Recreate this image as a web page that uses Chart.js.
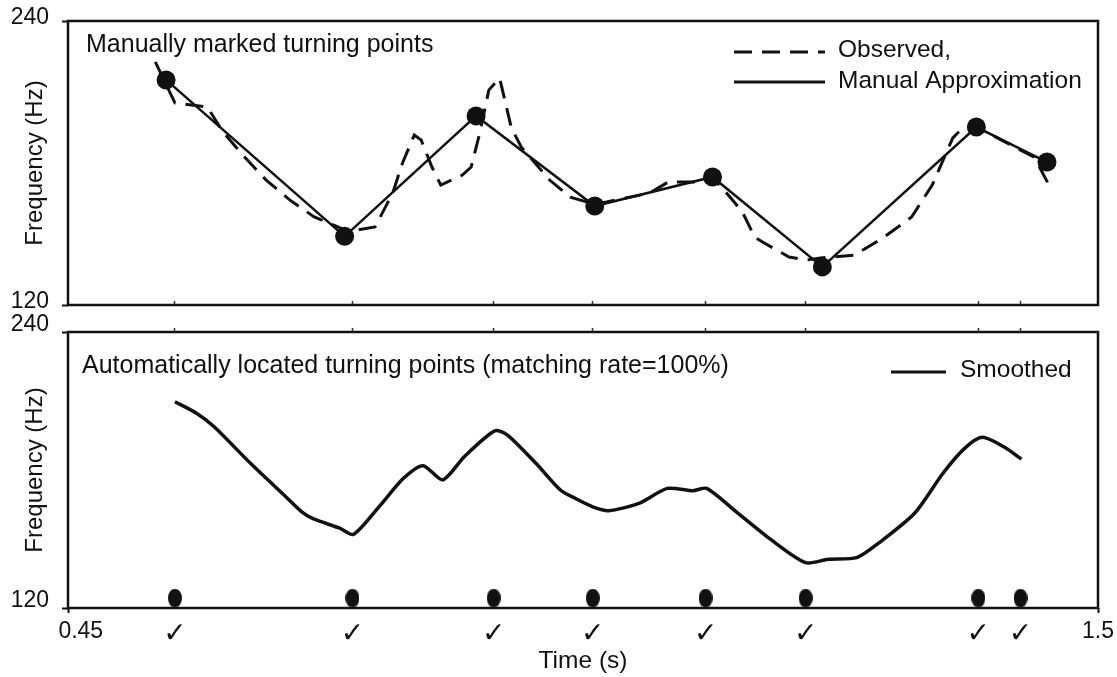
<!DOCTYPE html>
<html>
<head>
<meta charset="utf-8">
<script src="https://cdn.jsdelivr.net/npm/chart.js@4.4.1/dist/chart.umd.min.js"></script>
<style>
  html, body { margin: 0; padding: 0; background: #fff; width: 1117px; height: 677px; overflow: hidden; }
  canvas { position: absolute; left: 0; }
  #upper { top: 0; }
  #lower { top: 300px; }
</style>
</head>
<body>
<canvas id="upper" width="1117" height="318"></canvas>
<canvas id="lower" width="1117" height="377"></canvas>
<script>
// ---- F0 contour data (time in s, frequency in Hz) ----
const observedTime = [0.539, 0.559, 0.592, 0.608, 0.630, 0.652, 0.676, 0.701, 0.728, 0.740, 0.763, 0.781,
  0.791, 0.803, 0.810, 0.821, 0.830, 0.852, 0.861, 0.870, 0.879, 0.890, 0.902, 0.912, 0.941, 0.962, 0.986,
  0.999, 1.043, 1.062, 1.094, 1.107, 1.116, 1.130, 1.138, 1.150, 1.158, 1.185, 1.203, 1.217, 1.229, 1.252,
  1.282, 1.310, 1.331, 1.352, 1.360, 1.373, 1.386, 1.407, 1.435, 1.451];
const observedFreq = [222.7, 205.4, 203.7, 193.1, 182.5, 172.8, 164.4, 157.2, 152.5, 151.3, 153.0, 167.3,
  180.0, 191.8, 189.7, 178.3, 170.7, 174.9, 178.3, 193.1, 210.8, 215.9, 194.8, 186.8, 172.8, 165.6, 162.7,
  163.5, 167.3, 172.0, 172.0, 173.7, 169.9, 163.1, 158.9, 148.7, 146.6, 140.3, 139.0, 139.9, 140.3, 141.1,
  148.7, 157.2, 170.7, 190.6, 193.9, 195.2, 193.1, 188.5, 182.5, 169.9];

const manualTime = [0.550, 0.732, 0.866, 0.987, 1.107, 1.219, 1.376, 1.448];
const manualFreq = [215.1, 149.0, 199.9, 161.8, 174.1, 136.1, 195.2, 180.4];

const smoothTime = [0.559, 0.581, 0.599, 0.636, 0.672, 0.690, 0.701, 0.727, 0.741, 0.767, 0.792, 0.812,
  0.832, 0.854, 0.885, 0.898, 0.927, 0.952, 0.967, 0.985, 1.001, 1.032, 1.061, 1.087, 1.101, 1.131, 1.167,
  1.202, 1.225, 1.254, 1.276, 1.313, 1.342, 1.364, 1.382, 1.404, 1.422];
const smoothFreq = [209.7, 204.7, 198.8, 182.9, 168.4, 161.2, 158.6, 154.7, 152.0, 164.0, 176.4, 181.9,
  175.7, 185.8, 197.0, 195.2, 182.9, 171.3, 167.7, 164.0, 162.3, 165.5, 172.0, 171.0, 172.0, 161.9, 149.6,
  139.7, 141.2, 141.9, 148.1, 161.2, 178.6, 189.4, 194.2, 190.1, 184.7];

// automatically located turning points, marked along the bottom of the lower panel
const autoTime = [0.559, 0.740, 0.884, 0.985, 1.100, 1.202, 1.378, 1.421];
const autoMarkFreq = [124.3, 124.3, 124.3, 124.3, 124.3, 124.3, 124.3, 124.3];

// axis labels
const timeRange = [0.45, 1.5];
const timeEndLabels = ['0.45', '1.5'];
const freqTicks = [120, 240];
const checkLabel = '\u2713';

// ---- styling ----
const INK = '#111';
const SANS = '"Liberation Sans", Arial, sans-serif';
Chart.defaults.font.family = SANS;
Chart.defaults.color = INK;
Chart.defaults.animation = false;

const pts = (xs, ys) => xs.map((x, i) => ({ x, y: ys[i] }));

function ellipseMarker(w, h) {
  const c = document.createElement('canvas');
  c.width = w; c.height = h;
  const g = c.getContext('2d');
  g.fillStyle = INK;
  g.beginPath();
  g.ellipse(w / 2, h / 2, w / 2, h / 2, 0, 0, Math.PI * 2);
  g.fill();
  return c;
}

// box around the plotting area
const framePlugin = {
  id: 'frame',
  beforeDatasetsDraw(chart) {
    const { ctx, chartArea: a } = chart;
    ctx.save();
    ctx.strokeStyle = INK;
    ctx.lineWidth = 2.5;
    ctx.strokeRect(a.left, a.top, a.right - a.left, a.bottom - a.top);
    ctx.restore();
  }
};

// panel caption plus an in-panel key built from the dataset styles
function panelText(caption, captionPos, keys) {
  return {
    id: 'panelText',
    afterDraw(chart) {
      const { ctx } = chart;
      ctx.save();
      ctx.fillStyle = INK;
      ctx.textBaseline = 'alphabetic';
      ctx.textAlign = 'left';
      ctx.font = '25px ' + SANS;
      ctx.fillText(caption, captionPos[0], captionPos[1]);
      ctx.font = '24.5px ' + SANS;
      keys.forEach(k => {
        const ds = chart.data.datasets[k.dataset];
        ctx.save();
        ctx.strokeStyle = ds.borderColor;
        ctx.lineWidth = k.width;
        ctx.setLineDash(ds.borderDash || []);
        ctx.beginPath();
        ctx.moveTo(k.x0, k.lineY);
        ctx.lineTo(k.x1, k.lineY);
        ctx.stroke();
        ctx.restore();
        ctx.fillText(ds.label, k.textX, k.textY);
      });
      ctx.restore();
    }
  };
}

function freqAxis(labelShift) {
  return {
    type: 'linear',
    min: freqTicks[0],
    max: freqTicks[freqTicks.length - 1],
    afterBuildTicks(s) { s.ticks = freqTicks.map(v => ({ value: v })); },
    ticks: { padding: 13, font: { size: 23, lineHeight: 1 }, labelOffset: labelShift },
    grid: { drawOnChartArea: false, tickLength: 6, tickWidth: 2, tickColor: INK },
    border: { display: false },
    title: { display: true, text: 'Frequency (Hz)', font: { size: 24 }, padding: { top: 21, bottom: 0 } },
    afterFit(s) { s.width = 68; s.paddingTop = 0; s.paddingBottom = 0; }
  };
}

// short marks on the shared panel edge at each located turning point
function turnMarkAxis(position, len) {
  return {
    type: 'linear',
    position,
    min: timeRange[0],
    max: timeRange[1],
    afterBuildTicks(s) { s.ticks = autoTime.map(v => ({ value: v })); },
    ticks: { display: false },
    grid: { drawOnChartArea: false, tickLength: len, tickWidth: 1.5, tickColor: '#333' },
    border: { display: false },
    afterFit(s) { s.height = 0; s.paddingLeft = 0; s.paddingRight = 0; }
  };
}

// ---- upper panel: manual marking ----
new Chart(document.getElementById('upper'), {
  type: 'line',
  data: {
    datasets: [
      {
        label: 'Observed,',
        data: pts(observedTime, observedFreq),
        borderColor: INK,
        borderWidth: 3,
        borderDash: [18, 10],
        pointRadius: 0,
        tension: 0
      },
      {
        label: 'Manual Approximation',
        data: pts(manualTime, manualFreq),
        borderColor: INK,
        borderWidth: 2.5,
        pointRadius: 9.5,
        pointBackgroundColor: INK,
        pointBorderWidth: 0,
        tension: 0
      }
    ]
  },
  options: {
    responsive: false,
    layout: { padding: { left: 0, right: 19, top: 21, bottom: 13 } },
    plugins: { legend: { display: false }, tooltip: { enabled: false } },
    scales: {
      x: turnMarkAxis('bottom', -4),
      y: freqAxis(-3)
    }
  },
  plugins: [framePlugin, panelText('Manually marked turning points', [86, 52], [
    { dataset: 0, x0: 734, x1: 825, lineY: 52, width: 3, textX: 838, textY: 57 },
    { dataset: 1, x0: 734, x1: 825, lineY: 82, width: 3, textX: 838, textY: 88 }
  ])]
});

// ---- lower panel: automatic location ----
const lastTick = autoTime.length + 1;
new Chart(document.getElementById('lower'), {
  type: 'line',
  data: {
    datasets: [
      {
        label: 'Smoothed',
        data: pts(smoothTime, smoothFreq),
        borderColor: INK,
        borderWidth: 3.5,
        pointRadius: 0,
        tension: 0.25
      },
      {
        label: 'Turning points',
        data: pts(autoTime, autoMarkFreq),
        showLine: false,
        pointStyle: ellipseMarker(14, 19),
        pointRadius: 9
      }
    ]
  },
  options: {
    responsive: false,
    layout: { padding: { left: 0, right: 19, top: 32, bottom: 0 } },
    plugins: { legend: { display: false }, tooltip: { enabled: false } },
    scales: {
      x: {
        type: 'linear',
        min: timeRange[0],
        max: timeRange[1],
        afterBuildTicks(s) { s.ticks = [timeRange[0], ...autoTime, timeRange[1]].map(v => ({ value: v })); },
        ticks: {
          autoSkip: false,
          maxRotation: 0,
          padding: 5,
          callback(v, i) {
            if (i === 0) return '\u00A0\u00A0\u00A0\u00A0' + timeEndLabels[0];
            if (i === lastTick) return timeEndLabels[1];
            return checkLabel;
          },
          font(c) {
            const end = c.index === 0 || c.index === lastTick;
            return end ? { size: 23, family: SANS } : { size: 28, weight: 'bold', family: '"DejaVu Sans", sans-serif' };
          }
        },
        grid: {
          drawOnChartArea: false,
          tickLength: 5,
          tickWidth: 2,
          tickColor(c) { return (c.index === 0 || c.index === lastTick) ? INK : 'rgba(0,0,0,0)'; }
        },
        border: { display: false },
        title: { display: true, text: 'Time (s)', font: { size: 24.5 }, padding: { top: 0, bottom: 1 } },
        afterFit(s) { s.height = 69; s.paddingLeft = 0; s.paddingRight = 0; }
      },
      xEdge: turnMarkAxis('top', 4),
      y: freqAxis(-7)
    }
  },
  plugins: [framePlugin, panelText('Automatically located turning points (matching rate=100%)', [82, 73], [
    { dataset: 0, x0: 891, x1: 946, lineY: 72, width: 3, textX: 960, textY: 77 }
  ])]
});
</script>
</body>
</html>
